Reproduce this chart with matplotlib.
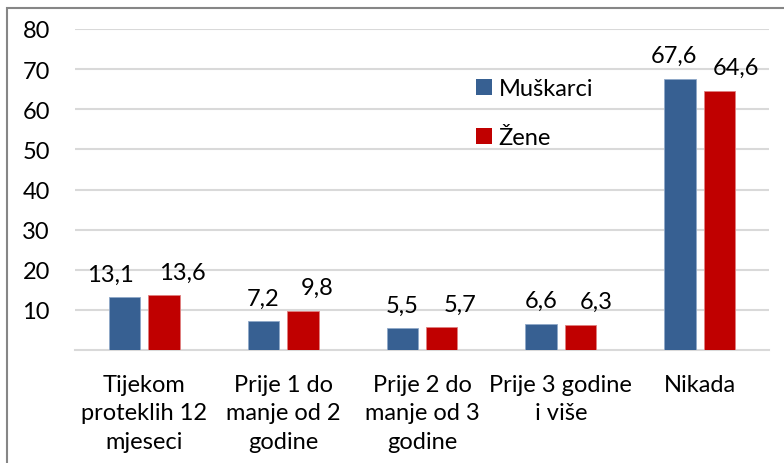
import numpy as np
import matplotlib
matplotlib.use("Agg")
import matplotlib.pyplot as plt
from matplotlib.patches import Rectangle

# Data
categories = ["Tijekom\nproteklih 12\nmjeseci", "Prije 1 do\nmanje od 2\ngodine",
              "Prije 2 do\nmanje od 3\ngodine", "Prije 3 godine\ni više", "Nikada"]
muskarci = [13.1, 7.2, 5.5, 6.6, 67.6]
zene = [13.6, 9.8, 5.7, 6.3, 64.6]
series_names = ["Muškarci", "Žene"]
y_ticks = [10, 20, 30, 40, 50, 60, 70, 80]

# label nudges (points), the original labels were moved by hand a bit
blue_dx = [-10, 0, 0, 0, -4]
red_dx = [13, 10, 13, 11, 12]

BLUE = "#376092"
RED = "#C00000"
GRID = "#d9d9d9"
FS = 17

plt.rcParams['font.family'] = ['Lato', 'DejaVu Sans']

fig = plt.figure(figsize=(7.84, 4.64), dpi=100)
ax = fig.add_axes([75 / 784, 1 - 351 / 464, 694 / 784, 321 / 464])

x = np.arange(len(categories))
w = 0.227
off = 0.142
b1 = ax.bar(x - off, muskarci, w, color=BLUE, edgecolor="#8fa8c8", linewidth=0.6, zorder=3,
            label=series_names[0])
b2 = ax.bar(x + off, zene, w, color=RED, edgecolor="#e08080", linewidth=0.6, zorder=3,
            label=series_names[1])

for bars, vals, dxs in ((b1, muskarci, blue_dx), (b2, zene, red_dx)):
    for bar, v, dx in zip(bars, vals, dxs):
        ax.annotate(f"{v:.1f}".replace(".", ","),
                    (bar.get_x() + bar.get_width() / 2, bar.get_height()),
                    xytext=(dx, 9), textcoords="offset points",
                    ha="center", va="bottom", fontsize=FS, color="black")

ax.set_xlim(-0.5, len(categories) - 0.5)
ax.set_ylim(0, 80)
ax.set_yticks(y_ticks)
ax.set_xticks(x)
ax.set_xticklabels(categories, fontsize=FS, linespacing=1.45)
ax.tick_params(axis="y", length=0, pad=18, labelsize=FS)
ax.tick_params(axis="x", length=0, pad=17)
ax.yaxis.grid(True, color=GRID, linewidth=1.5, zorder=0)
for s in ("left", "right", "top"):
    ax.spines[s].set_visible(False)
ax.spines["bottom"].set_color(GRID)
ax.spines["bottom"].set_linewidth(1.5)

leg = fig.legend(handles=[b1, b2], loc="upper left", bbox_to_anchor=(476 / 784, 1 - 79 / 464),
                 frameon=False, fontsize=FS, handlelength=0.66, handleheight=0.66,
                 handletextpad=0.3, labelspacing=1.2, borderpad=0, borderaxespad=0)
for h in leg.legend_handles:
    h.set_edgecolor("none")

# outer chart border (runs off the right and bottom of the picture)
fig.patches.append(Rectangle((7 / 784, -0.05), 1.0, 1.05 - 9 / 464, transform=fig.transFigure,
                             fill=False, edgecolor="#868686", linewidth=1.5))

fig.savefig("out.png", dpi=100)
